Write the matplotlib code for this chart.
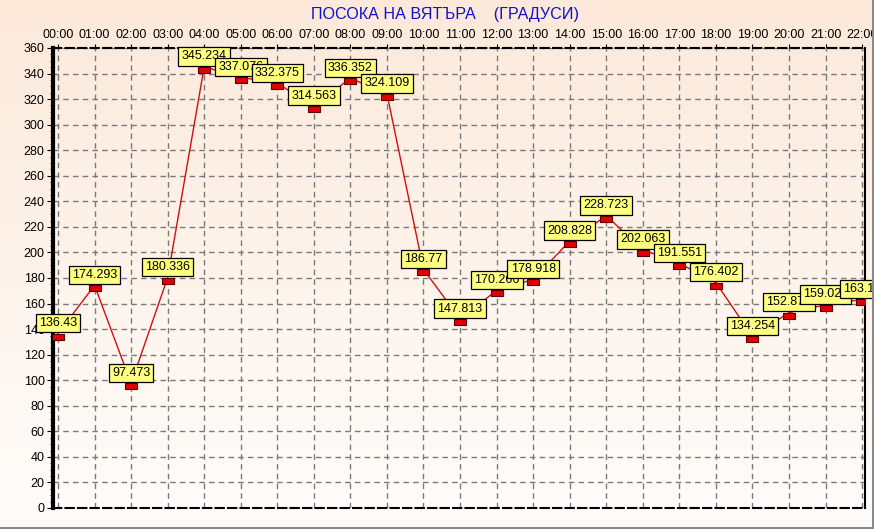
import numpy as np
import matplotlib
matplotlib.use("Agg")
import matplotlib.pyplot as plt
from matplotlib.patches import Rectangle
from matplotlib.colors import LinearSegmentedColormap

plt.rcParams['font.family'] = ['Liberation Sans', 'DejaVu Sans']

hours = ["00:00", "01:00", "02:00", "03:00", "04:00", "05:00", "06:00", "07:00",
         "08:00", "09:00", "10:00", "11:00", "12:00", "13:00", "14:00", "15:00",
         "16:00", "17:00", "18:00", "19:00", "20:00", "21:00", "22:00"]
direction = [136.43, 174.293, 97.473, 180.336, 345.234, 337.076, 332.375, 314.563,
             336.352, 324.109, 186.77, 147.813, 170.266, 178.918, 208.828, 228.723,
             202.063, 191.551, 176.402, 134.254, 152.871, 159.027, 163.18]
labels = ["136.43", "174.293", "97.473", "180.336", "345.234", "337.076", "332.375",
          "314.563", "336.352", "324.109", "186.77", "147.813", "170.266", "178.918",
          "208.828", "228.723", "202.063", "191.551", "176.402", "134.254", "152.871",
          "159.027", "163.18"]
title = "ПОСОКА НА ВЯТЪРА    (ГРАДУСИ)"

W, H = 874, 529
fig = plt.figure(figsize=(W/100, H/100), dpi=100)

# figure background gradient
cmap = LinearSegmentedColormap.from_list("bg", ["#FCE9DA", "#FFFDFB"])
bgax = fig.add_axes([0, 0, 1, 1], zorder=-10)
grad = np.linspace(0, 1, 256).reshape(-1, 1)
bgax.imshow(grad, aspect='auto', cmap=cmap, extent=[0, 1, 0, 1])
bgax.set_axis_off()

# gray frame at bottom and right
fig.patches.append(Rectangle((0, 0), 1, 2.5/H, transform=fig.transFigure,
                             facecolor="#8A8A8A", edgecolor='none', zorder=20))
fig.patches.append(Rectangle((1-2.5/W, 0), 2.5/W, 1, transform=fig.transFigure,
                             facecolor="#8A8A8A", edgecolor='none', zorder=20))

left, right, top, bottom = 53, 865, 48, 508
ax = fig.add_axes([left/W, 1-bottom/H, (right-left)/W, (bottom-top)/H])
ax.patch.set_alpha(0)

x = np.arange(len(hours))
ax.plot(x, direction, color="#D01010", lw=1, zorder=3)
marker = [(-1, -0.55), (1, -0.55), (1, 0.55), (-1, 0.55), (-1, -0.55)]
ax.plot(x, np.array(direction) - 2.3, linestyle='none', marker=marker, markersize=8.5,
        markerfacecolor="#E00000", markeredgecolor="#600000", markeredgewidth=0.8, zorder=4)

for xi, yi, lab in zip(x, direction, labels):
    ax.annotate(lab, (xi, yi), xytext=(0, 3.2), textcoords='offset points',
                ha='center', va='bottom', fontsize=9, color='black',
                bbox=dict(boxstyle='square,pad=0.26', facecolor='#FFFF80',
                          edgecolor='black', linewidth=0.9),
                annotation_clip=False, zorder=5)

px_per_hour = 36.55
ax.set_xlim(-5/px_per_hour, (right-left-5)/px_per_hour)
ax.set_ylim(0, 360)

ax.set_xticks(x)
ax.set_xticklabels(hours)
ax.xaxis.tick_top()
ax.tick_params(axis='x', top=True, bottom=False, length=3, labelsize=9, pad=2)
ax.set_yticks(np.arange(0, 361, 20))
ax.set_yticks(np.arange(0, 361, 5), minor=True)
ax.tick_params(axis='y', which='major', length=4, labelsize=9, pad=2)
ax.tick_params(axis='y', which='minor', length=2)
ax.tick_params(axis='x', which='minor', top=False, bottom=False)

ax.grid(True, color="#7A7A7A", linestyle=(0, (4, 3)), linewidth=1)

ax.spines['left'].set_linewidth(3)
ax.spines['right'].set_linewidth(1.5)
ax.spines['top'].set_linestyle((0, (4, 2)))
ax.spines['top'].set_linewidth(1.5)
ax.spines['bottom'].set_linestyle((0, (4, 2)))
ax.spines['bottom'].set_linewidth(1.5)

fig.text(445/W, 1-14/H, title, ha='center', va='center', fontsize=11.6, color="#1010D0")

fig.savefig("out.png", dpi=100)
